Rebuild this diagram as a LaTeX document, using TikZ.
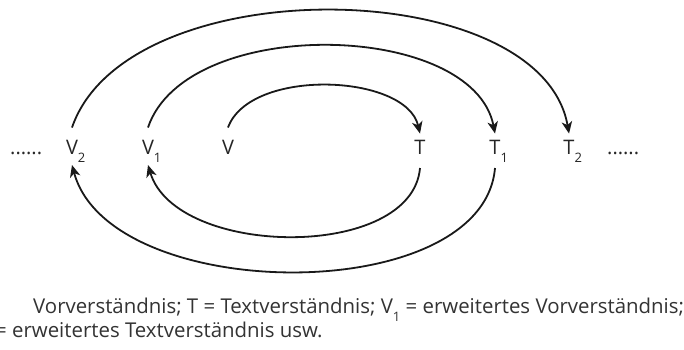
\documentclass[tikz,border=0pt]{standalone}
\usepackage{fontspec}
\setmainfont{Open Sans}
\usetikzlibrary{arrows.meta}
\newcommand\lblsub[1]{\raisebox{-0.42em}{\fontsize{13}{13}\selectfont #1}}
\begin{document}
\begin{tikzpicture}[x=1pt,y=-1pt,
  lbl/.style={font=\fontsize{20}{22}\selectfont, text=black!85, inner sep=0pt, anchor=base},
  captxt/.style={font=\fontsize{20.4}{22}\selectfont, text=black!80, inner sep=0pt, anchor=base west},
  ringarrow/.style={line width=1.8pt, draw=black!90, -{Stealth[length=12pt,width=10.5pt,inset=3.5pt]}},
]
\useasboundingbox (0,0) rectangle (684,349);
\fill[white] (0,0) rectangle (684,349);

% labels
\node[lbl, anchor=base west] (dl) at (10,154) {......};
\node[lbl] (V2) at (72,154) {V\rlap{\lblsub{2}}};
\node[lbl] (V1) at (148,154) {V\rlap{\lblsub{1}}};
\node[lbl] (V)  at (228,154) {V};
\node[lbl] (T)  at (420,154) {T};
\node[lbl] (T1) at (495,154) {T\rlap{\lblsub{1}}};
\node[lbl] (T2) at (569,154) {T\rlap{\lblsub{2}}};
\node[lbl, anchor=base west] (dr) at (607,154) {......};

% upper arcs
\draw[ringarrow] ([yshift=12pt]V.north) .. controls +(22,-60) and +(-14,-60) .. ([yshift=6pt]T.north);
\draw[ringarrow] ([yshift=12pt]V1.north) .. controls +(38,-113) and +(-22,-113) .. ([yshift=6pt]T1.north);
\draw[ringarrow] ([yshift=12pt]V2.north) .. controls +(55,-160) and +(-28,-160) .. ([yshift=6pt]T2.north);

% lower arcs
\draw[ringarrow] ([yshift=-14pt]T.base) .. controls +(-8,93) and +(28,93) .. ([yshift=-11pt]V1.base);
\draw[ringarrow] ([yshift=-14pt]T1.base) .. controls +(-12,140) and +(38,140) .. ([yshift=-11pt]V2.base);

% caption
\node[captxt] (c1) at (33,313) {Vorverständnis; T = Textverständnis; V\lblsub{1} = erweitertes Vorverständnis;};
\node[captxt] (c2) at (-5,337) {= erweitertes Textverständnis usw.};
\end{tikzpicture}
\end{document}
